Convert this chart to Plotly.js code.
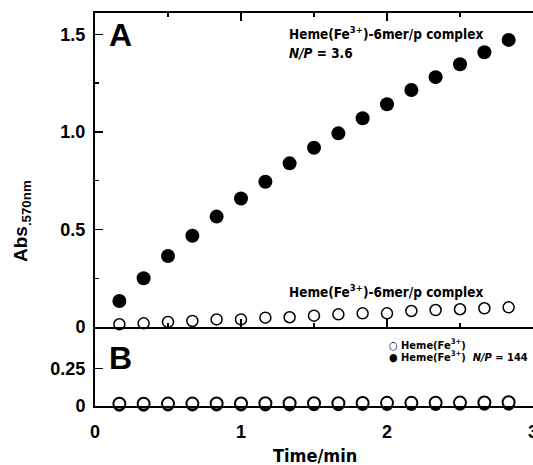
<!DOCTYPE html>
<html>
<head>
<meta charset="utf-8">
<script src="https://cdn.plot.ly/plotly-3.0.1.min.js"></script>
<style>html,body{margin:0;padding:0;background:#fff}#chart{width:533px;height:465px}</style>
</head>
<body>
<div id="chart"></div>
<script>
// Time points (min)
var times = [0.167, 0.333, 0.5, 0.667, 0.833, 1.0, 1.167, 1.333, 1.5, 1.667, 1.833, 2.0, 2.167, 2.333, 2.5, 2.667, 2.833];
// Panel A: Heme(Fe3+)-6mer/p complex, N/P = 3.6 (filled)
var complexNP36 = [0.133, 0.25, 0.364, 0.468, 0.566, 0.659, 0.745, 0.839, 0.919, 0.993, 1.07, 1.142, 1.215, 1.281, 1.347, 1.409, 1.472];
// Panel A: Heme(Fe3+)-6mer/p complex (open)
var complexOpen = [0.014, 0.019, 0.026, 0.031, 0.039, 0.039, 0.048, 0.05, 0.058, 0.065, 0.07, 0.07, 0.082, 0.087, 0.091, 0.096, 0.101];
// Panel B: Heme(Fe3+) (open) and Heme(Fe3+) N/P = 144 (filled)
var hemeOnly = [0.015, 0.015, 0.016, 0.016, 0.017, 0.017, 0.018, 0.018, 0.019, 0.019, 0.02, 0.021, 0.021, 0.022, 0.023, 0.024, 0.025];
var hemeNP144 = [0.002, 0.002, 0.003, 0.003, 0.003, 0.004, 0.004, 0.004, 0.005, 0.005, 0.006, 0.006, 0.007, 0.007, 0.008, 0.008, 0.009];
// Tick labels
var xTickVals = [0, 1, 2, 3];
var xTickText = ['0', '1', '2', '3'];
var yATickVals = [0, 0.5, 1.0, 1.5];
var yATickText = ['0', '0.5', '1.0', '1.5'];
var yBTickVals = [0, 0.25];
var yBTickText = ['0', '0.25'];

var tickFont = {family: 'Liberation Sans, Arial, sans-serif', size: 18, color: '#000', weight: 'bold'};
var narrow = 'DejaVu Sans Condensed, Liberation Sans Narrow, Arial Narrow, sans-serif';

var traces = [
  {x: times, y: complexNP36, xaxis: 'x', yaxis: 'y', mode: 'markers', cliponaxis: false,
   marker: {symbol: 'circle', size: 14, color: '#000'}},
  {x: times, y: complexOpen, xaxis: 'x', yaxis: 'y', mode: 'markers', cliponaxis: false,
   marker: {symbol: 'circle', size: 11, color: '#fff', line: {color: '#000', width: 1.5}}},
  {x: times, y: hemeNP144, xaxis: 'x2', yaxis: 'y2', mode: 'markers', cliponaxis: false,
   marker: {symbol: 'circle', size: 12, color: '#000'}},
  {x: times, y: hemeOnly, xaxis: 'x2', yaxis: 'y2', mode: 'markers', cliponaxis: false,
   marker: {symbol: 'circle', size: 12, color: '#fff', line: {color: '#000', width: 2}}}
];

var splitDomain = 0.201;
var layout = {
  width: 533, height: 465,
  margin: {l: 95, r: 0, t: 13, b: 59, pad: 0},
  paper_bgcolor: '#fff', plot_bgcolor: '#fff',
  showlegend: false,
  font: tickFont,
  xaxis: {domain: [0, 1], anchor: 'y', range: [0, 3], showline: true, linewidth: 2, linecolor: '#000',
          mirror: 'ticks', ticks: 'inside', ticklen: 8, tickwidth: 1.5, tickcolor: '#000', automargin: false,
          tickvals: [1, 2], showticklabels: false, showgrid: false, zeroline: false,
          minor: {tickvals: [0.5, 1.5, 2.5], ticks: 'inside', ticklen: 4, tickwidth: 1.5, tickcolor: '#000'}},
  yaxis: {domain: [splitDomain, 1], anchor: 'x', range: [0, 1.61], showline: true, linewidth: 2, linecolor: '#000',
          ticks: 'inside', ticklen: 8, tickwidth: 1.5, tickcolor: '#000', tickvals: yATickVals, ticktext: yATickText,
          showgrid: false, zeroline: false, ticklabelstandoff: 4, automargin: false,
          minor: {tickvals: [0.25, 0.75, 1.25], ticks: 'inside', ticklen: 4, tickwidth: 1.5, tickcolor: '#000'}},
  yaxis3: {overlaying: 'y', side: 'right', anchor: 'x', range: [0, 1.61], showline: false, ticks: 'inside',
          ticklen: 8, tickwidth: 1.5, tickcolor: '#000', tickvals: [0.5, 1.0, 1.5], showticklabels: false,
          showgrid: false, zeroline: false, automargin: false,
          minor: {tickvals: [0.25, 0.75, 1.25], ticks: 'inside', ticklen: 4, tickwidth: 1.5, tickcolor: '#000'}},
  xaxis2: {domain: [0, 1], anchor: 'y2', range: [0, 3], showline: true, linewidth: 2, linecolor: '#000',
          ticks: '', tickvals: xTickVals, ticktext: xTickText, showgrid: false, zeroline: false, ticklabelstandoff: 8,
          automargin: false, ticklabeloverflow: 'allow'},
  yaxis2: {domain: [0, splitDomain], anchor: 'x2', range: [0, 0.53], showline: true, linewidth: 2, linecolor: '#000',
          ticks: 'inside', ticklen: 8, tickwidth: 1.5, tickcolor: '#000', tickvals: yBTickVals, ticktext: yBTickText,
          showgrid: false, zeroline: false, ticklabelstandoff: 4, automargin: false},
  yaxis4: {overlaying: 'y2', side: 'right', anchor: 'x2', range: [0, 0.53], showline: false, ticks: 'inside',
          ticklen: 8, tickwidth: 1.5, tickcolor: '#000', tickvals: [0.25], showticklabels: false,
          showgrid: false, zeroline: false, automargin: false},
  annotations: [
    {xref: 'paper', yref: 'paper', x: 0.028, y: 0.995, xanchor: 'left', yanchor: 'top', showarrow: false,
     text: 'A', font: {family: 'Liberation Sans, Arial, sans-serif', size: 32, weight: 'bold', color: '#000'}},
    {xref: 'paper', yref: 'paper', x: 0.028, y: 0.174, xanchor: 'left', yanchor: 'top', showarrow: false,
     text: 'B', font: {family: 'Liberation Sans, Arial, sans-serif', size: 32, weight: 'bold', color: '#000'}},
    {xref: 'x', yref: 'y', x: 1.315, y: 1.505, xanchor: 'left', yanchor: 'middle', showarrow: false,
     text: 'Heme(Fe<sup>3+</sup>)-6mer/p complex', font: {family: narrow, size: 13.5, weight: 'bold', color: '#000'}},
    {xref: 'x', yref: 'y', x: 1.315, y: 1.405, xanchor: 'left', yanchor: 'middle', showarrow: false,
     text: '<i>N/P</i> = 3.6', font: {family: narrow, size: 13.5, weight: 'bold', color: '#000'}},
    {xref: 'x', yref: 'y', x: 1.315, y: 0.185, xanchor: 'left', yanchor: 'middle', showarrow: false,
     text: 'Heme(Fe<sup>3+</sup>)-6mer/p complex', font: {family: narrow, size: 13.5, weight: 'bold', color: '#000'}},
    {xref: 'x2', yref: 'y2', x: 2.0, y: 0.415, xanchor: 'left', yanchor: 'middle', showarrow: false,
     text: '○ Heme(Fe<sup>3+</sup>)', font: {family: narrow, size: 11, weight: 'bold', color: '#000'}},
    {xref: 'x2', yref: 'y2', x: 2.0, y: 0.33, xanchor: 'left', yanchor: 'middle', showarrow: false,
     text: '● Heme(Fe<sup>3+</sup>)  <i>N/P</i> = 144', font: {family: narrow, size: 11, weight: 'bold', color: '#000'}},
    {xref: 'paper', yref: 'paper', x: -0.165, y: 0.47, xanchor: 'center', yanchor: 'middle', showarrow: false,
     textangle: -90, text: 'Abs<sub>.570nm</sub>', font: {family: 'Liberation Sans, Arial, sans-serif', size: 19, weight: 'bold', color: '#000'}},
    {xref: 'paper', yref: 'paper', x: 0.502, y: -0.127, xanchor: 'center', yanchor: 'middle', showarrow: false,
     text: 'Time/min', font: {family: narrow, size: 18, weight: 'bold', color: '#000'}}
  ]
};

Plotly.newPlot('chart', traces, layout, {staticPlot: true, displayModeBar: false});
</script>
</body>
</html>
